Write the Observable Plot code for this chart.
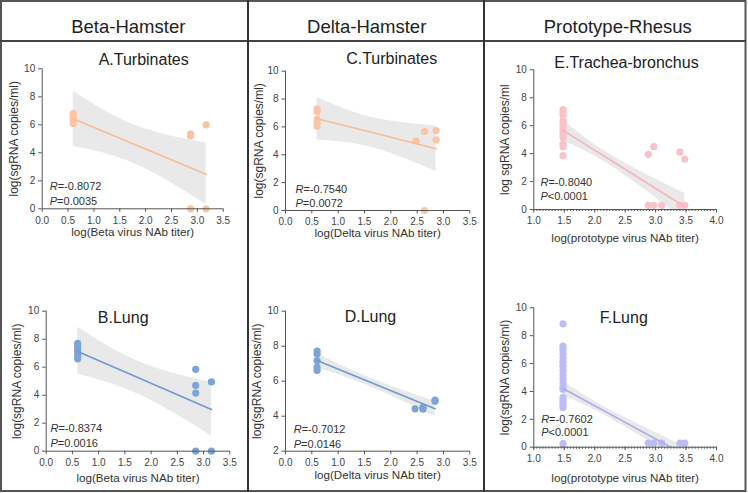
<!DOCTYPE html>
<html><head><meta charset="utf-8">
<script src="https://cdn.jsdelivr.net/npm/d3@7"></script>
<script src="https://cdn.jsdelivr.net/npm/@observablehq/plot@0.6"></script>
<style>
html,body{margin:0;padding:0;background:#fff;}
#root{position:relative;width:748px;height:493px;overflow:hidden;font-family:"Liberation Sans",Arial,Helvetica,sans-serif;}
#root svg{position:absolute;}
</style></head><body><div id="root"></div>
<script>
// ---------- data ----------
const headers = ["Beta-Hamster", "Delta-Hamster", "Prototype-Rhesus"];
const ticksHamsterX = [0, 0.5, 1, 1.5, 2, 2.5, 3, 3.5];
const ticksRhesusX = [1, 1.5, 2, 2.5, 3, 3.5, 4];
const minorRhesusX = d3.range(20, 81).map(i => i / 20);
const ticksY = [0, 2, 4, 6, 8, 10];
const ticksY_D = [2, 4, 6, 8, 10];

// A. Turbinates (Beta-Hamster)
const A_x = [0.6, 0.6, 0.6, 0.6, 0.6, 2.87, 2.87, 2.87, 3.17, 3.17];
const A_y = [6.1, 6.3, 6.5, 6.65, 6.8, 5.35, 5.2, 0, 6.0, 0];
const A_fitX = [0.6, 1.8, 3.17];
const A_fitY = [6.43, 4.58, 2.46];
const A_lo = [4.45, 3.2, 0.31];
const A_hi = [8.4, 5.96, 4.69];

// B. Lung (Beta-Hamster)
const B_x = [0.6, 0.6, 0.6, 0.6, 0.6, 0.6, 2.85, 2.85, 2.85, 2.85, 3.15, 3.15];
const B_y = [7.7, 7.5, 7.3, 7.1, 6.85, 6.6, 5.85, 4.7, 4.15, 0, 4.95, 0];
const B_fitX = [0.6, 1.8, 3.15];
const B_fitY = [7.12, 5.17, 2.98];
const B_lo = [5.52, 4.0, 1.1];
const B_hi = [8.86, 6.35, 4.9];

// C. Turbinates (Delta-Hamster)
const C_x = [0.6, 0.6, 0.6, 0.6, 0.6, 2.48, 2.64, 2.64, 2.86, 2.86];
const C_y = [7.3, 7.1, 6.55, 6.3, 6.05, 5.0, 5.67, 0, 5.74, 5.07];
const C_fitX = [0.6, 1.65, 2.86];
const C_fitY = [6.58, 5.6, 4.43];
const C_lo = [5.07, 4.53, 2.8];
const C_hi = [8.09, 6.67, 6.06];

// D. Lung (Delta-Hamster)
const D_x = [0.6, 0.6, 0.6, 0.6, 0.6, 2.46, 2.61, 2.61, 2.84, 2.84];
const D_y = [7.72, 7.55, 7.18, 6.8, 6.62, 4.42, 4.5, 4.4, 4.92, 4.85];
const D_fitX = [0.6, 1.6, 2.84];
const D_fitY = [7.18, 5.95, 4.42];
const D_lo = [6.77, 5.7, 3.99];
const D_hi = [7.59, 6.2, 4.85];

// E. Trachea-bronchus (Prototype-Rhesus)
const E_x = [1.48, 1.48, 1.48, 1.48, 1.48, 1.48, 1.48, 1.48, 1.48, 1.48, 1.48, 1.48,
             2.88, 2.88, 2.97, 2.97, 3.1, 3.4, 3.4, 3.48, 3.48];
const E_y = [7.15, 6.95, 6.75, 6.35, 6.15, 5.9, 5.65, 5.4, 5.15, 4.7, 4.5, 3.85,
             3.95, 0.3, 4.5, 0.3, 0.3, 4.1, 0.3, 3.6, 0.3];
const E_fitX = [1.48, 2.25, 3.48];
const E_fitY = [5.66, 3.56, 0.2];
const E_lo = [4.91, 3.16, -0.75];
const E_hi = [6.41, 3.96, 1.15];

// F. Lung (Prototype-Rhesus)
const F_x = [1.48, 1.48, 1.48, 1.48, 1.48, 1.48, 1.48, 1.48, 1.48, 1.48, 1.48, 1.48, 1.48,
             1.48, 1.48, 1.48, 1.48, 1.48, 2.88, 2.97, 3.1, 3.4, 3.48];
const F_y = [8.85, 7.25, 7.0, 6.7, 6.4, 6.1, 5.8, 5.5, 5.2, 4.9, 4.6, 4.3, 4.15,
             3.55, 3.3, 3.05, 2.85, 0.25, 0.3, 0.3, 0.3, 0.3, 0.3];
const F_fitX = [1.48, 2.2, 3.48];
const F_fitY = [4.21, 2.5, -0.55];
const F_lo = [3.67, 2.2, -1.15];
const F_hi = [4.75, 2.8, 0.05];

const statsR = ["=-0.8072", "=-0.8374", "=-0.7540", "=-0.7012", "=-0.8040", "=-0.7602"];
const statsP = ["=0.0035", "=0.0016", "=0.0072", "=0.0146", "<0.0001", "<0.0001"];

// ---------- drawing ----------
const FONT = '"Liberation Sans", Arial, Helvetica, sans-serif';
const root = document.getElementById("root");

const bg = d3.select(root).append("svg").attr("width", 748).attr("height", 493)
  .style("left", "0px").style("top", "0px");
bg.append("rect").attr("x", 1).attr("y", 1).attr("width", 744.5).attr("height", 490)
  .attr("fill", "none").attr("stroke", "#555").attr("stroke-width", 2);
bg.append("line").attr("x1", 0).attr("x2", 746).attr("y1", 41).attr("y2", 41).attr("stroke", "#444").attr("stroke-width", 2);
[248, 484].forEach(x => bg.append("line").attr("x1", x).attr("x2", x).attr("y1", 0).attr("y2", 492).attr("stroke", "#333").attr("stroke-width", 2));
[128.3, 366.7, 617.8].forEach((cx, i) => bg.append("text").attr("x", cx).attr("y", 33.3)
  .attr("text-anchor", "middle").attr("font-family", FONT).attr("font-size", 18.5).attr("fill", "#222").text(headers[i]));

const fmt = d3.format(".1f");
function panel(p) {
  const [bx, by, bw, bh] = p.box;
  const [fx0, fx1, fy0, fy1] = p.frame;
  const st = {fontSize: 11, fill: "#333", textAnchor: "start", lineAnchor: "middle", frameAnchor: "bottom-left", text: d => d};
  const marks = [
    Plot.areaY(p.fitX, {x: p.fitX, y1: p.lo, y2: p.hi, curve: "natural", fill: "#e9e9e9", clip: true}),
    Plot.dot(p.ys, {x: p.xs, y: p.ys, r: 3.6, fill: p.color, stroke: "none"}),
    Plot.line(p.fitX, {x: p.fitX, y: p.fitY, stroke: p.lineColor, strokeWidth: 1.6, clip: true}),
    Plot.ruleY([p.yDomain[0]], {stroke: "#555"}),
    Plot.ruleX([p.xDomain[0]], {stroke: "#555"}),
    Plot.axisX(p.xTicks, {tickSize: 3.5, tickPadding: 4.2, tickFormat: fmt, stroke: "#555", fill: "#444", fontSize: 10, label: null}),
    Plot.axisY(p.yTicks, {tickSize: 3.5, tickPadding: 3.5, stroke: "#555", fill: "#444", fontSize: 10, label: null}),
    Plot.text([p.xLabel], {text: d => d, frameAnchor: "bottom", textAnchor: "middle", lineAnchor: "middle", dy: p.xLabelDy + 2.5, fontSize: 11.6, fill: "#333"}),
    Plot.text([p.yLabel], {text: d => d, frameAnchor: "left", textAnchor: "middle", lineAnchor: "middle", rotate: -90, dx: p.yLabelDx, fontSize: 12, fill: "#333"}),
    Plot.text([p.title], {text: d => d, frameAnchor: "top", textAnchor: "middle", lineAnchor: "middle", dx: p.titleDx, dy: p.titleDy, fontSize: 16, fill: "#222"}),
    Plot.text(["R"], {...st, dx: p.statDx, dy: p.statDy[0], fontStyle: "italic"}),
    Plot.text([p.rText], {...st, dx: p.statDx + 7.9, dy: p.statDy[0]}),
    Plot.text(["P"], {...st, dx: p.statDx, dy: p.statDy[1], fontStyle: "italic"}),
    Plot.text([p.pText], {...st, dx: p.statDx + 7.3, dy: p.statDy[1]})
  ];
  if (p.minor) marks.push(Plot.axisX(p.minor, {tickSize: 2, tickFormat: () => "", stroke: "#555", label: null}));
  const svg = Plot.plot({
    width: bw, height: bh,
    marginLeft: fx0 - bx, marginRight: bx + bw - fx1, marginTop: fy0 - by, marginBottom: by + bh - fy1,
    style: {fontFamily: FONT, fontSize: "10px", color: "#444", background: "none", overflow: "visible"},
    x: {domain: p.xDomain, nice: false},
    y: {domain: p.yDomain, nice: false},
    marks
  });
  svg.style.position = "absolute";
  svg.style.left = bx + "px";
  svg.style.top = by + "px";
  svg.style.maxWidth = "none";
  root.append(svg);
}

const orange = "#fcc4a3", orangeLine = "#f9bb96";
const blue = "#7ba4d8", blueLine = "#6f99d0";

panel({xs: A_x, ys: A_y, fitX: A_fitX, fitY: A_fitY, lo: A_lo, hi: A_hi, color: orange, lineColor: orangeLine,
  xDomain: [0, 3.5], yDomain: [0, 10], xTicks: ticksHamsterX, yTicks: ticksY,
  xLabel: "log(Beta virus NAb titer)", yLabel: "log(sgRNA copies/ml)", title: "A.Turbinates",
  rText: statsR[0], pText: statsP[0],
  box: [2, 42, 245, 200], frame: [41.7, 222.7, 68.3, 208.3],
  titleDx: 11, titleDy: -9.3, xLabelDy: 21, yLabelDx: -28, statDx: 7.6, statDy: [-22, -7.5]});

panel({xs: B_x, ys: B_y, fitX: B_fitX, fitY: B_fitY, lo: B_lo, hi: B_hi, color: blue, lineColor: blueLine,
  xDomain: [0, 3.5], yDomain: [0, 10], xTicks: ticksHamsterX, yTicks: ticksY,
  xLabel: "log(Beta virus NAb titer)", yLabel: "log(sgRNA copies/ml)", title: "B.Lung",
  rText: statsR[1], pText: statsP[1],
  box: [2, 245, 245, 245], frame: [45.7, 229.3, 310.7, 450.7],
  titleDx: -14.8, titleDy: 6.5, xLabelDy: 25, yLabelDx: -28.7, statDx: 4.3, statDy: [-22.9, -7.3]});

panel({xs: C_x, ys: C_y, fitX: C_fitX, fitY: C_fitY, lo: C_lo, hi: C_hi, color: orange, lineColor: orangeLine,
  xDomain: [0, 3.5], yDomain: [0, 10], xTicks: ticksHamsterX, yTicks: ticksY,
  xLabel: "log(Delta virus NAb titer)", yLabel: "log(sgRNA copies/ml)", title: "C.Turbinates",
  rText: statsR[2], pText: statsP[2],
  box: [249, 42, 234, 200], frame: [285, 469.3, 70.7, 210],
  titleDx: 14, titleDy: -12, xLabelDy: 20.5, yLabelDx: -26.5, statDx: 10, statDy: [-21, -7]});

panel({xs: D_x, ys: D_y, fitX: D_fitX, fitY: D_fitY, lo: D_lo, hi: D_hi, color: blue, lineColor: blueLine,
  xDomain: [0, 3.5], yDomain: [2, 10], xTicks: ticksHamsterX, yTicks: ticksY_D,
  xLabel: "log(Delta virus NAb titer)", yLabel: "log(sgRNA copies/ml)", title: "D.Lung",
  rText: statsR[3], pText: statsP[3],
  box: [249, 245, 234, 245], frame: [285, 469.3, 310.7, 450.7],
  titleDx: -7.2, titleDy: 6, xLabelDy: 22, yLabelDx: -28, statDx: 8.3, statDy: [-21.7, -7]});

panel({xs: E_x, ys: E_y, fitX: E_fitX, fitY: E_fitY, lo: E_lo, hi: E_hi, color: "#f9c1c8", lineColor: "#f7b5bd",
  xDomain: [1, 4], yDomain: [0, 10], xTicks: ticksRhesusX, yTicks: ticksY, minor: minorRhesusX,
  xLabel: "log(prototype virus NAb titer)", yLabel: "log sgRNA copies/ml", title: "E.Trachea-bronchus",
  rText: statsR[4], pText: statsP[4],
  box: [486, 42, 258, 200], frame: [533.3, 716, 69.3, 209],
  titleDx: 1.3, titleDy: -6.8, xLabelDy: 26, yLabelDx: -28.3, statDx: 6.7, statDy: [-27, -13]});

panel({xs: F_x, ys: F_y, fitX: F_fitX, fitY: F_fitY, lo: F_lo, hi: F_hi, color: "#bcbcf6", lineColor: "#aaaaf0",
  xDomain: [1, 4], yDomain: [0, 10], xTicks: ticksRhesusX, yTicks: ticksY, minor: minorRhesusX,
  xLabel: "log(prototype virus NAb titer)", yLabel: "log(sgRNA copies/ml)", title: "F.Lung",
  rText: statsR[5], pText: statsP[5],
  box: [486, 245, 258, 245], frame: [533.3, 716, 307.3, 446.7],
  titleDx: -1.4, titleDy: 10, xLabelDy: 28.5, yLabelDx: -28.3, statDx: 7.4, statDy: [-27.7, -14.3]});
</script></body></html>
